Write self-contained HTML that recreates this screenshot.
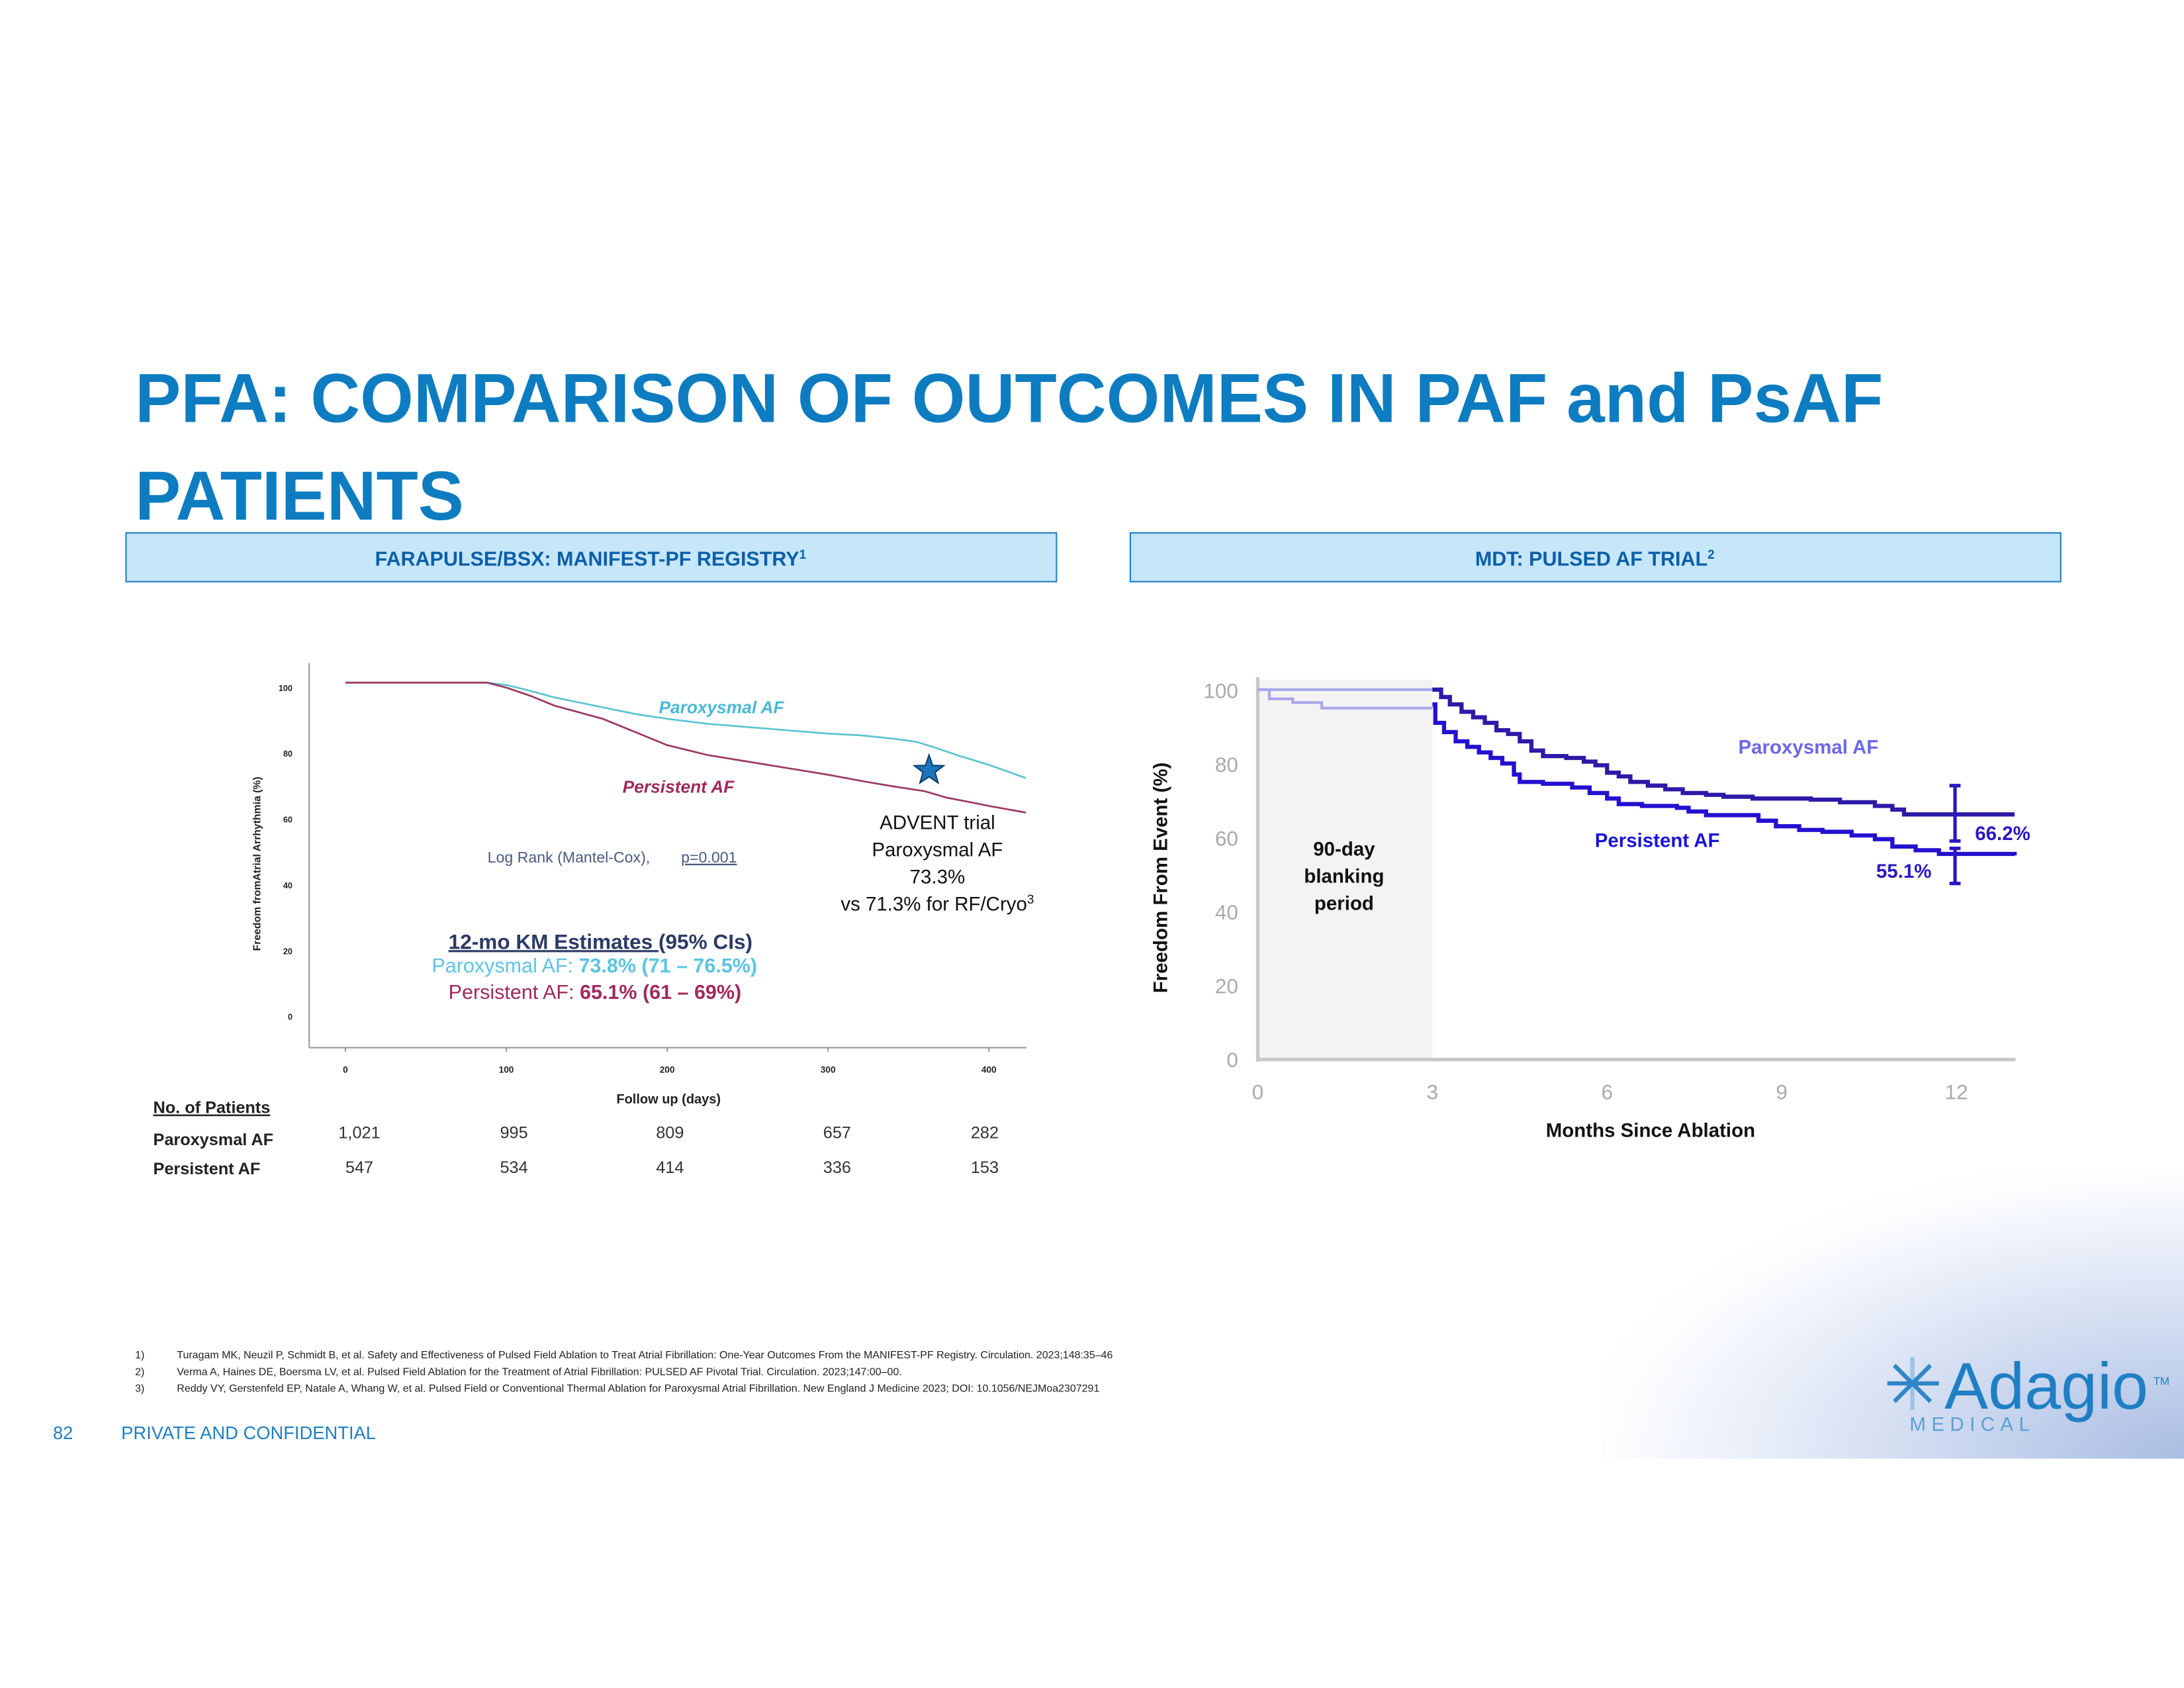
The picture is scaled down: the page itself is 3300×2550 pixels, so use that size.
<!DOCTYPE html>
<html><head><meta charset="utf-8"><style>
html,body{margin:0;padding:0;background:#fff}
svg{display:block}
text{font-family:"Liberation Sans",sans-serif}
</style></head><body>
<svg id="root" width="3300" height="2550" viewBox="0 0 1568 1211.6" xmlns="http://www.w3.org/2000/svg">
<defs>
<radialGradient id="frost" cx="1" cy="1" r="1.1">
<stop offset="0" stop-color="#a9bde3"/><stop offset="0.45" stop-color="#d4def2"/><stop offset="0.8" stop-color="#f4f7fc"/><stop offset="1" stop-color="#ffffff" stop-opacity="0"/>
</radialGradient>
</defs>
<rect x="1150" y="840" width="418" height="207" fill="url(#frost)"/>

<g fill="#0d7cc1" font-weight="bold" font-size="50">
<text x="97" y="303" textLength="1255" lengthAdjust="spacingAndGlyphs">PFA: COMPARISON OF OUTCOMES IN PAF and PsAF</text>
<text x="97" y="373" textLength="236" lengthAdjust="spacingAndGlyphs">PATIENTS</text>
</g>

<g>
<rect x="90.5" y="382.5" width="668" height="35" fill="#c6e6fa" stroke="#1f7fc4" stroke-width="1"/>
<text x="424" y="406" text-anchor="middle" font-size="14.5" font-weight="bold" fill="#0b5fa8">FARAPULSE/BSX: MANIFEST-PF REGISTRY<tspan font-size="9" dy="-5">1</tspan></text>
</g>
<g>
<rect x="811.5" y="382.5" width="668" height="35" fill="#c6e6fa" stroke="#1f7fc4" stroke-width="1"/>
<text x="1145" y="406" text-anchor="middle" font-size="14.5" font-weight="bold" fill="#0b5fa8">MDT: PULSED AF TRIAL<tspan font-size="9" dy="-5">2</tspan></text>
</g>

<g id="leftChart"></g>
<g id="rightChart"></g>

<g font-size="7.6" fill="#222">
<text x="97" y="975">1)</text><text x="127" y="975">Turagam MK, Neuzil P, Schmidt B, et al. Safety and Effectiveness of Pulsed Field Ablation to Treat Atrial Fibrillation: One-Year Outcomes From the MANIFEST-PF Registry. Circulation. 2023;148:35–46</text>
<text x="97" y="987">2)</text><text x="127" y="987">Verma A, Haines DE, Boersma LV, et al. Pulsed Field Ablation for the Treatment of Atrial Fibrillation: PULSED AF Pivotal Trial. Circulation. 2023;147:00–00.</text>
<text x="97" y="999">3)</text><text x="127" y="999">Reddy VY, Gerstenfeld EP, Natale A, Whang W, et al. Pulsed Field or Conventional Thermal Ablation for Paroxysmal Atrial Fibrillation. New England J Medicine 2023; DOI: 10.1056/NEJMoa2307291</text>
</g>
<text x="38" y="1033" font-size="13" fill="#1f7fc4">82</text>
<text x="87" y="1033" font-size="13" fill="#1f7fc4">PRIVATE AND CONFIDENTIAL</text>

<g>
<g stroke="#2f86c8" stroke-width="3">
<line x1="1355" y1="993" x2="1392" y2="993"/><line x1="1373" y1="974" x2="1373" y2="1012" stroke="#9cc4e6"/>
<line x1="1360" y1="980" x2="1386" y2="1006"/><line x1="1386" y1="980" x2="1360" y2="1006"/>
</g>
<text x="1396" y="1011" font-size="47" fill="#1f7fc4">Adagio</text>
<text x="1546" y="994" font-size="8" fill="#1f7fc4">TM</text>
<text x="1371" y="1027" font-size="14" letter-spacing="4" fill="#5a9fd4">MEDICAL</text>
</g>
</svg>
<script>
// ---------- Left chart data (MANIFEST-PF) ----------
const leftXTicks = [0, 100, 200, 300, 400];
const leftYTicks = [0, 20, 40, 60, 80, 100];
const parDays = [0, 88, 100, 115, 130, 145, 160, 180, 200, 225, 250, 275, 300, 320, 340, 355, 365, 380, 400, 423];
const parVals = [100, 100, 99.3, 97.5, 95.5, 94, 92.5, 90.5, 89, 87.5, 86.5, 85.5, 84.5, 84, 83, 82, 80.5, 78, 75, 71];
const persDays = [0, 88, 100, 115, 130, 145, 160, 180, 200, 225, 250, 275, 300, 322, 340, 360, 374, 390, 400, 423];
const persVals = [100, 100, 98.5, 96, 93, 91, 89, 85, 81, 78, 76, 74, 72, 70, 68.5, 67, 65, 63.5, 62.5, 60.5];
const parAtRisk = ["1,021", "995", "809", "657", "282"];
const persAtRisk = ["547", "534", "414", "336", "153"];

// ---------- Right chart data (PULSED AF) ----------
const rightXTicks = [0, 3, 6, 9, 12];
const rightYTicks = [0, 20, 40, 60, 80, 100];
const blankParMonths = [0, 3];
const blankParVals = [100, 100];
const blankPersMonths = [0, 0.2, 0.6, 1.1, 3];
const blankPersVals = [100, 97.5, 96.5, 95, 95];
const rParMonths = [3, 3.15, 3.3, 3.5, 3.7, 3.9, 4.1, 4.3, 4.5, 4.7, 4.9, 5.3, 5.6, 5.8, 6.0, 6.2, 6.4, 6.7, 7.0, 7.3, 7.7, 8.0, 8.5, 9.5, 10, 10.6, 10.9, 11.1, 13];
const rParVals = [100, 98, 96, 94, 92.5, 91, 89, 88, 86, 83.5, 82, 81.5, 80.5, 79.5, 77.5, 76.5, 75, 74, 73, 72, 71.5, 71, 70.5, 70.2, 69.5, 68.5, 67.5, 66.2, 66.2];
const rPersMonths = [3, 3.05, 3.2, 3.4, 3.6, 3.8, 4.0, 4.2, 4.4, 4.5, 4.9, 5.4, 5.7, 6.0, 6.2, 6.6, 7.2, 7.4, 7.7, 8.2, 8.6, 8.9, 9.3, 9.7, 10.2, 10.6, 10.9, 11.3, 11.7, 13];
const rPersVals = [96, 91, 88.5, 86, 84.5, 83, 81.5, 80, 77, 75, 74.5, 73.5, 72, 70.5, 69, 68.5, 68, 67, 66, 66, 64.5, 63, 62, 61.5, 60.5, 59.5, 57.5, 56.5, 55.5, 55.1];
const ciMonth = [12, 12];
const ciLow = [59, 47.5];
const ciHigh = [74, 57];

const NS = "http://www.w3.org/2000/svg";
function mk(parent, tag, attrs, txt) {
  const e = document.createElementNS(NS, tag);
  for (const k in attrs) e.setAttribute(k, attrs[k]);
  if (txt !== undefined) e.textContent = txt;
  parent.appendChild(e);
  return e;
}
function stepPath(xs, ys, fx, fy) {
  let d = "M" + fx(xs[0]) + "," + fy(ys[0]);
  for (let i = 1; i < xs.length; i++) {
    d += " L" + fx(xs[i]) + "," + fy(ys[i - 1]) + " L" + fx(xs[i]) + "," + fy(ys[i]);
  }
  return d;
}
function jaggedPath(xs, ys, fx, fy) {
  let d = "M" + fx(xs[0]) + "," + fy(ys[0]);
  for (let i = 1; i < xs.length; i++) d += " L" + fx(xs[i]) + "," + fy(ys[i]);
  return d;
}

// ---------- Left chart ----------
(function () {
  const g = document.getElementById("leftChart");
  const lx = d => 248 + d * 1.155;
  const ly = v => 490 + (100 - v) * 2.36;
  let e;
  e = mk(g, "line", { x1: 222, y1: 476, x2: 222, y2: 752, stroke: "#999", "stroke-width": 1 });
   
  e = mk(g, "line", { x1: 222, y1: 752, x2: 737, y2: 752, stroke: "#999", "stroke-width": 1 });
   
  leftYTicks.forEach(v => {
    const t = mk(g, "text", { x: 210, y: ly(v) + 6, "font-size": 6, "font-weight": "bold", "text-anchor": "end", fill: "#222" }, String(v));
     
  });
  leftXTicks.forEach(v => {
    const t = mk(g, "text", { x: lx(v), y: 770, "font-size": 6.5, "font-weight": "bold", "text-anchor": "middle", fill: "#222" }, String(v));
     
    mk(g, "line", { x1: lx(v), y1: 752, x2: lx(v), y2: 755, stroke: "#999" });
  });
  e = mk(g, "text", { x: 187, y: 620, "font-size": 7.5, "font-weight": "bold", "text-anchor": "middle", fill: "#222", transform: "rotate(-90 187 620)" }, "Freedom fromAtrial Arrhythmia (%)");
   
  e = mk(g, "text", { x: 480, y: 792, "font-size": 9.5, "font-weight": "bold", "text-anchor": "middle", fill: "#222" }, "Follow up (days)");
   

  e = mk(g, "path", { d: jaggedPath(parDays, parVals, lx, ly), fill: "none", stroke: "#5ec4cf", "stroke-width": 1.3 });
   
  e = mk(g, "path", { d: jaggedPath(persDays, persVals, lx, ly), fill: "none", stroke: "#9c3a62", "stroke-width": 1.3 });
   

  e = mk(g, "text", { x: 473, y: 512, "font-size": 12.5, "font-weight": "bold", "font-style": "italic", fill: "#4ab8d8" }, "Paroxysmal AF");
   
  e = mk(g, "text", { x: 447, y: 569, "font-size": 12.5, "font-weight": "bold", "font-style": "italic", fill: "#a02a5c" }, "Persistent AF");
   
  e = mk(g, "text", { x: 350, y: 619, "font-size": 11, fill: "#4a5a80" }, "Log Rank (Mantel-Cox), ");
   
  mk(g, "text", { x: 489, y: 619, "font-size": 11, fill: "#4a5a80", "text-decoration": "underline" }, "p=0.001");
  e = mk(g, "text", { x: 322, y: 681, "font-size": 15, "font-weight": "bold", fill: "#2c3a66" });
   
  mk(e, "tspan", { "text-decoration": "underline" }, "12-mo KM Estimates ");
  mk(e, "tspan", {}, " (95% CIs)");
  e = mk(g, "text", { x: 310, y: 698, "font-size": 14.5, fill: "#5cc4e2" });
   
  mk(e, "tspan", {}, "Paroxysmal AF:  ");
  mk(e, "tspan", { "font-weight": "bold" }, "73.8% (71 – 76.5%)");
  e = mk(g, "text", { x: 322, y: 717, "font-size": 14.5, fill: "#a02a5c" });
   
  mk(e, "tspan", {}, "Persistent AF:  ");
  mk(e, "tspan", { "font-weight": "bold" }, "65.1% (61 – 69%)");

  const cx = 667, cy = 553, R = 11, r = 4.5;
  let pts = [];
  for (let i = 0; i < 10; i++) {
    const a = -Math.PI / 2 + i * Math.PI / 5, rr = i % 2 ? r : R;
    pts.push((cx + rr * Math.cos(a)).toFixed(1) + "," + (cy + rr * Math.sin(a)).toFixed(1));
  }
  e = mk(g, "polygon", { points: pts.join(" "), fill: "#1b75bb", stroke: "#0d3d70", "stroke-width": 1 });
   
  const adv = ["ADVENT trial", "Paroxysmal AF", "73.3%"];
  adv.forEach((s, i) => {
    const t = mk(g, "text", { x: 673, y: 595 + i * 19.5, "font-size": 14, "text-anchor": "middle", fill: "#111" }, s);
     
  });
  e = mk(g, "text", { x: 673, y: 653.5, "font-size": 14, "text-anchor": "middle", fill: "#111" }, "vs 71.3% for RF/Cryo");
   
  mk(e, "tspan", { "font-size": 9, dy: -5 }, "3");

  e = mk(g, "text", { x: 110, y: 799, "font-size": 12, "font-weight": "bold", fill: "#222", "text-decoration": "underline" }, "No. of Patients");
   
  e = mk(g, "text", { x: 110, y: 822, "font-size": 12, "font-weight": "bold", fill: "#222" }, "Paroxysmal AF");
   
  e = mk(g, "text", { x: 110, y: 843, "font-size": 12, "font-weight": "bold", fill: "#222" }, "Persistent AF");
   
  const colX = [258, 369, 481, 601, 707];
  parAtRisk.forEach((s, i) => {
    const t = mk(g, "text", { x: colX[i], y: 817, "font-size": 12, "text-anchor": "middle", fill: "#333" }, s);
     
  });
  persAtRisk.forEach((s, i) => {
    const t = mk(g, "text", { x: colX[i], y: 842, "font-size": 12, "text-anchor": "middle", fill: "#333" }, s);
     
  });
})();

// ---------- Right chart ----------
(function () {
  const g = document.getElementById("rightChart");
  const rx = m => 903 + m * 41.8;
  const ry = v => 760 - v * 2.65;
  let e;
  e = mk(g, "rect", { x: 903, y: 488, width: rx(3) - 903, height: 272, fill: "#f3f3f3" });
   
  e = mk(g, "line", { x1: 903, y1: 486, x2: 903, y2: 762, stroke: "#c8c8c8", "stroke-width": 2.5 });
   
  e = mk(g, "line", { x1: 903, y1: 760.5, x2: 1447, y2: 760.5, stroke: "#c8c8c8", "stroke-width": 2.5 });
   
  rightYTicks.forEach(v => {
    const t = mk(g, "text", { x: 889, y: ry(v) + 6, "font-size": 15, "text-anchor": "end", fill: "#aaa" }, String(v));
     
  });
  rightXTicks.forEach(v => {
    const t = mk(g, "text", { x: rx(v), y: 789, "font-size": 15, "text-anchor": "middle", fill: "#aaa" }, String(v));
     
  });
  e = mk(g, "text", { x: 838, y: 630, "font-size": 14, "font-weight": "bold", "text-anchor": "middle", fill: "#111", transform: "rotate(-90 838 630)" }, "Freedom From Event (%)");
   
  e = mk(g, "text", { x: 1185, y: 816, "font-size": 14, "font-weight": "bold", "text-anchor": "middle", fill: "#111" }, "Months Since Ablation");
   
  ["90-day", "blanking", "period"].forEach((s, i) => {
    const t = mk(g, "text", { x: 965, y: 614 + i * 19.5, "font-size": 14, "font-weight": "bold", "text-anchor": "middle", fill: "#111" }, s);
     
  });

  e = mk(g, "path", { d: jaggedPath(blankParMonths, blankParVals, rx, ry), fill: "none", stroke: "#aaa6ea", "stroke-width": 2 });
   
  e = mk(g, "path", { d: stepPath(blankPersMonths, blankPersVals, rx, ry), fill: "none", stroke: "#aaa6ea", "stroke-width": 2 });
   
  e = mk(g, "path", { d: stepPath(rParMonths, rParVals, rx, ry), fill: "none", stroke: "#2c1aa8", "stroke-width": 3 });
   
  e = mk(g, "path", { d: stepPath(rPersMonths, rPersVals, rx, ry), fill: "none", stroke: "#2410d0", "stroke-width": 3 });
   

  ciMonth.forEach((m, i) => {
    const x = rx(m) - 1;
    const c = mk(g, "g", { stroke: "#2a18c0", "stroke-width": 2.5 });
     
    mk(c, "line", { x1: x, y1: ry(ciHigh[i]), x2: x, y2: ry(ciLow[i]) });
    mk(c, "line", { x1: x - 4, y1: ry(ciHigh[i]), x2: x + 4, y2: ry(ciHigh[i]) });
    mk(c, "line", { x1: x - 4, y1: ry(ciLow[i]), x2: x + 4, y2: ry(ciLow[i]) });
  });

  e = mk(g, "text", { x: 1248, y: 541, "font-size": 14, "font-weight": "bold", fill: "#6b68e6" }, "Paroxysmal AF");
   
  e = mk(g, "text", { x: 1145, y: 608, "font-size": 14, "font-weight": "bold", fill: "#1a14d8" }, "Persistent AF");
   
  e = mk(g, "text", { x: 1418, y: 603, "font-size": 14, "font-weight": "bold", fill: "#2a18c8" }, "66.2%");
   
  e = mk(g, "text", { x: 1347, y: 630, "font-size": 14, "font-weight": "bold", fill: "#2a18c8" }, "55.1%");
   
})();
</script>
</body></html>
